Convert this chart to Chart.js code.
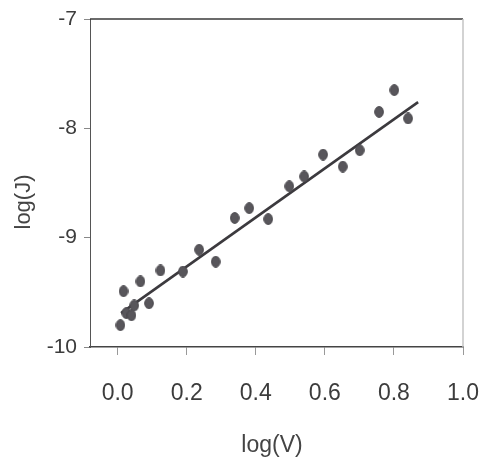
<!DOCTYPE html>
<html>
<head>
<meta charset="utf-8">
<script src="https://cdn.jsdelivr.net/npm/chart.js@4/dist/chart.umd.min.js"></script>
<style>
  html, body { margin: 0; padding: 0; background: #ffffff; }
  canvas { display: block; }
</style>
</head>
<body>
<canvas id="c" width="482" height="464"></canvas>
<script>
// ---- data ----
const logV = [0.008, 0.017, 0.025, 0.040, 0.048, 0.066, 0.091, 0.124, 0.189, 0.236, 0.284,
              0.339, 0.381, 0.436, 0.497, 0.540, 0.595, 0.652, 0.701, 0.757, 0.801, 0.841];
const logJ = [-9.80, -9.49, -9.69, -9.71, -9.62, -9.40, -9.60, -9.30, -9.31, -9.11, -9.22,
              -8.82, -8.73, -8.83, -8.53, -8.44, -8.24, -8.35, -8.20, -7.85, -7.65, -7.91];
const fitV = [0.01, 0.87];
const fitJ = [-9.69, -7.76];
const xTicks = [0.0, 0.2, 0.4, 0.6, 0.8, 1.0];
const xTickLabels = ['0.0', '0.2', '0.4', '0.6', '0.8', '1.0'];
const yTicks = [-10, -9, -8, -7];
const yTickLabels = ['-10', '-9', '-8', '-7'];
const xTitle = 'log(V)';
const yTitle = 'log(J)';

const FONT = '"Liberation Sans", Arial, sans-serif';

// elliptical marker (the scanned dots are slightly taller than wide)
const dot = document.createElement('canvas');
dot.width = 10; dot.height = 12;
(function () {
  const g = dot.getContext('2d');
  g.fillStyle = '#58565b';
  g.strokeStyle = '#48464b';
  g.lineWidth = 1;
  g.beginPath();
  g.ellipse(5, 6, 4.3, 5.4, 0, 0, Math.PI * 2);
  g.fill();
  g.stroke();
})();

const framePlugin = {
  id: 'frame',
  afterDraw(chart) {
    const { ctx, chartArea: a } = chart;
    ctx.save();
    ctx.strokeStyle = '#3a3a3a';
    ctx.lineWidth = 1.5;
    ctx.beginPath();
    ctx.moveTo(a.left, a.top);
    ctx.lineTo(a.right, a.top);
    ctx.stroke();
    ctx.strokeStyle = '#c4c4c4';
    ctx.lineWidth = 1.5;
    ctx.beginPath();
    ctx.moveTo(a.right, a.top);
    ctx.lineTo(a.right, a.bottom);
    ctx.stroke();
    // axis titles
    ctx.fillStyle = '#444';
    ctx.textAlign = 'center';
    ctx.textBaseline = 'middle';
    ctx.font = '23px ' + FONT;
    ctx.fillText(xTitle, 272, 446);
    ctx.translate(24, 202);
    ctx.rotate(-Math.PI / 2);
    ctx.font = '22px ' + FONT;
    ctx.fillText(yTitle, 0, 0);
    ctx.restore();
  }
};

new Chart(document.getElementById('c'), {
  type: 'scatter',
  data: {
    datasets: [
      {
        label: 'fit',
        data: fitV.map((v, i) => ({ x: v, y: fitJ[i] })),
        showLine: true,
        borderColor: '#3c3a3e',
        borderWidth: 2.6,
        pointRadius: 0,
        order: 2
      },
      {
        label: 'data',
        data: logV.map((v, i) => ({ x: v, y: logJ[i] })),
        pointStyle: dot,
        pointRadius: 5,
        order: 1
      }
    ]
  },
  options: {
    responsive: false,
    animation: false,
    devicePixelRatio: 1,
    layout: { padding: { left: 47, right: 19, top: 19, bottom: 56 } },
    plugins: { legend: { display: false }, tooltip: { enabled: false } },
    scales: {
      x: {
        type: 'linear',
        min: -0.08,
        max: 1.0,
        afterBuildTicks: s => { s.ticks = xTicks.map(v => ({ value: v })); },
        afterFit: s => { s.height = 61; s.paddingLeft = 0; s.paddingRight = 0; },
        ticks: {
          callback: (v, i) => xTickLabels[i],
          font: { size: 23, family: FONT },
          color: '#3c3c3c',
          padding: 25,
          maxRotation: 0,
          autoSkip: false
        },
        grid: { drawOnChartArea: false, drawTicks: true, tickLength: 8, tickColor: '#999', tickWidth: 1 },
        border: { color: '#444', width: 1.5 }
      },
      y: {
        type: 'linear',
        min: -10,
        max: -7,
        afterBuildTicks: s => { s.ticks = yTicks.map(v => ({ value: v })); },
        afterFit: s => { s.width = 43; s.paddingTop = 0; s.paddingBottom = 0; },
        ticks: {
          callback: (v, i) => yTickLabels[i],
          font: { size: 21, family: FONT },
          color: '#3c3c3c',
          padding: 7,
          autoSkip: false
        },
        grid: { drawOnChartArea: false, drawTicks: true, tickLength: 6, tickColor: '#888', tickWidth: 1 },
        border: { color: '#555', width: 1 }
      }
    }
  },
  plugins: [framePlugin]
});
</script>
</body>
</html>
